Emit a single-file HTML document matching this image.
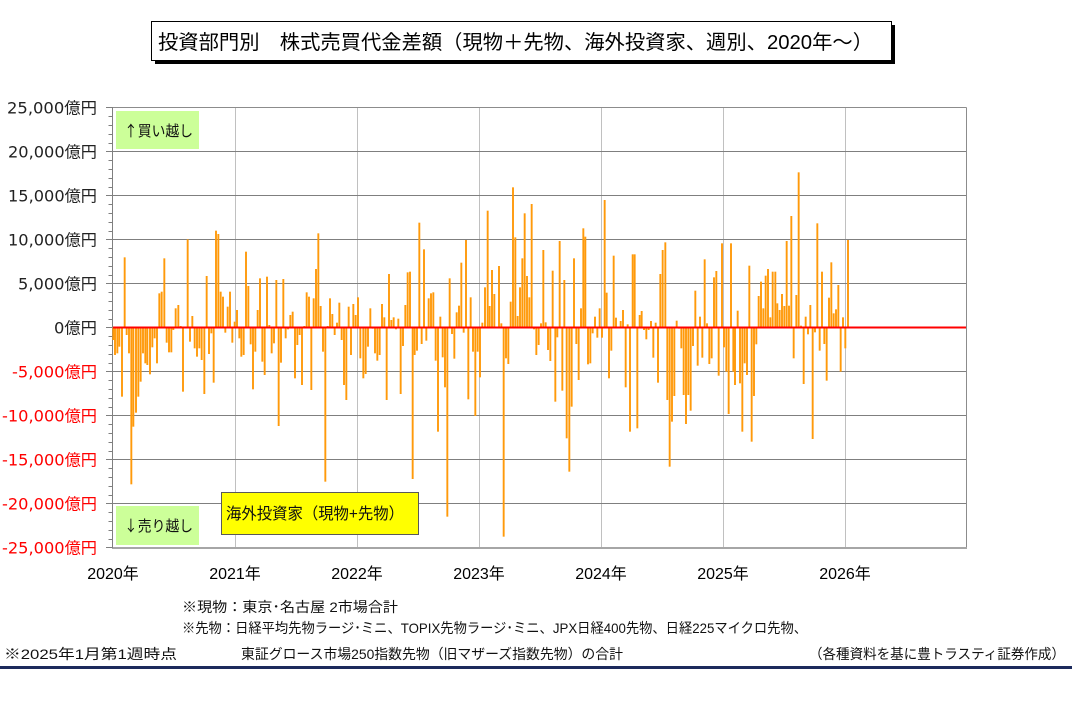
<!DOCTYPE html>
<html><head><meta charset="utf-8">
<style>
html,body{margin:0;padding:0;background:#fff;}
svg{display:block;}
text{font-family:"Liberation Sans","Noto Sans CJK JP",sans-serif;}
.yl text{font-family:"DejaVu Sans","Noto Sans CJK JP",sans-serif;font-size:16px;}
.xl{font-family:"DejaVu Sans","Noto Sans CJK JP",sans-serif;font-size:16px;fill:#000;}
.cjk{font-family:"Noto Sans CJK JP","Liberation Sans",sans-serif;}
</style></head>
<body>
<svg id="c" width="1074" height="707" viewBox="0 0 1074 707" xmlns="http://www.w3.org/2000/svg">
<rect width="1074" height="707" fill="#fff"/>
<!-- title -->
<rect x="155" y="25" width="740" height="39" fill="#000"/>
<rect x="151.5" y="21.5" width="740" height="39" fill="#fff" stroke="#000" stroke-width="1"/>
<text x="158" y="49" font-size="20" textLength="715" lengthAdjust="spacingAndGlyphs" fill="#000">投資部門別　株式売買代金差額（現物＋先物、海外投資家、週別、2020年～）</text>

<g id="grid"></g>
<g id="bars"></g>
<line x1="113" y1="327.5" x2="966" y2="327.5" stroke="#ff0000" stroke-width="2"/>

<!-- green boxes -->
<rect x="116" y="111" width="83" height="38" fill="#ccff99"/>
<text class="cjk" x="124" y="136" font-size="15" textLength="69" lengthAdjust="spacingAndGlyphs" fill="#111">↑買い越し</text>
<rect x="116" y="506" width="83" height="39" fill="#ccff99"/>
<text class="cjk" x="124" y="531" font-size="15" textLength="69" lengthAdjust="spacingAndGlyphs" fill="#111">↓売り越し</text>

<!-- yellow box -->
<rect x="221.5" y="492.5" width="197" height="42" fill="#ffff00" stroke="#595959" stroke-width="1"/>
<text x="226" y="519" font-size="16" textLength="178" lengthAdjust="spacingAndGlyphs" fill="#111">海外投資家（現物+先物）</text>

<!-- y labels -->
<g class="yl" text-anchor="end">
<text x="97" y="113.5" fill="#222" textLength="90" lengthAdjust="spacingAndGlyphs">25,000億円</text>
<text x="97" y="157.5" fill="#222" textLength="89" lengthAdjust="spacingAndGlyphs">20,000億円</text>
<text x="97" y="201.5" fill="#222" textLength="89" lengthAdjust="spacingAndGlyphs">15,000億円</text>
<text x="97" y="245.5" fill="#222" textLength="89" lengthAdjust="spacingAndGlyphs">10,000億円</text>
<text x="97" y="289.5" fill="#222" textLength="79" lengthAdjust="spacingAndGlyphs">5,000億円</text>
<text x="97" y="333.5" fill="#222" textLength="43" lengthAdjust="spacingAndGlyphs">0億円</text>
<text x="97" y="377.5" fill="#ff0000" textLength="85" lengthAdjust="spacingAndGlyphs">-5,000億円</text>
<text x="97" y="421.5" fill="#ff0000" textLength="95" lengthAdjust="spacingAndGlyphs">-10,000億円</text>
<text x="97" y="465.5" fill="#ff0000" textLength="95" lengthAdjust="spacingAndGlyphs">-15,000億円</text>
<text x="97" y="509.5" fill="#ff0000" textLength="95" lengthAdjust="spacingAndGlyphs">-20,000億円</text>
<text x="97" y="553.5" fill="#ff0000" textLength="95" lengthAdjust="spacingAndGlyphs">-25,000億円</text>
</g>

<!-- x labels -->
<g class="xl" text-anchor="middle">
<text x="113" y="579">2020年</text>
<text x="235" y="579">2021年</text>
<text x="357" y="579">2022年</text>
<text x="479" y="579">2023年</text>
<text x="601" y="579">2024年</text>
<text x="723" y="579">2025年</text>
<text x="845" y="579">2026年</text>
</g>

<!-- notes -->
<g font-size="14" fill="#111">
<text x="182" y="612" textLength="216" lengthAdjust="spacingAndGlyphs">※現物：東京･名古屋  2市場合計</text>
<text x="182" y="633" textLength="625" lengthAdjust="spacingAndGlyphs">※先物：日経平均先物ラージ･ミニ、TOPIX先物ラージ･ミニ、JPX日経400先物、日経225マイクロ先物、</text>
<text x="241" y="659" textLength="382" lengthAdjust="spacingAndGlyphs">東証グロース市場250指数先物（旧マザーズ指数先物）の合計</text>
<text x="4" y="659" textLength="173" lengthAdjust="spacingAndGlyphs">※2025年1月第1週時点</text>
<text x="809" y="659" textLength="256" lengthAdjust="spacingAndGlyphs">（各種資料を基に豊トラスティ証券作成）</text>
</g>
<rect x="0" y="666" width="1072" height="3" fill="#1c2a5c"/>
</svg>
<script>
(function(){
var NS="http://www.w3.org/2000/svg";
function el(p,t,a){var e=document.createElementNS(NS,t);for(var k in a)e.setAttribute(k,a[k]);p.appendChild(e);return e;}
var g=document.getElementById("grid");
[235,357,479,601,723,845].forEach(function(x){el(g,"line",{x1:x+0.5,y1:107.5,x2:x+0.5,y2:547.5,stroke:"#c0c0c0","stroke-width":1});});
for(var i=0;i<=10;i++){var y=107.5+44*i;
 if(i>0&&i<10) el(g,"line",{x1:113,y1:y,x2:966.5,y2:y,stroke:"#7f7f7f","stroke-width":1});
 el(g,"line",{x1:106,y1:y,x2:113,y2:y,stroke:"#7f7f7f","stroke-width":1});
}
for(var j=0;j<=50;j++){ if(j%5===0) continue; var yy=Math.round(107.5+8.8*j)+0.5;
 el(g,"line",{x1:108.5,y1:yy,x2:113,y2:yy,stroke:"#7f7f7f","stroke-width":1});}
el(g,"line",{x1:112.5,y1:107.5,x2:966.5,y2:107.5,stroke:"#8c8c8c","stroke-width":1});
el(g,"line",{x1:966.5,y1:107.5,x2:966.5,y2:548,stroke:"#8c8c8c","stroke-width":1});
el(g,"line",{x1:112,y1:548,x2:967,y2:548,stroke:"#a6a6a6","stroke-width":2});
el(g,"line",{x1:112.5,y1:107,x2:112.5,y2:548,stroke:"#7f7f7f","stroke-width":1});

var segs=[
[110,[[10,720],[15,765],[22,760],[28,740],[36,890],[44,472],[50,705],[57,760],[64,1153],[70,980],[78,938],[85,890],[92,845],[99,760],[106,790],[112,795],[120,823],[127,742],[134,715],[141,790],[148,580],[155,575],[163,475],[170,728],[177,757],[184,757],[190,690],[197,625],[205,615],[212,678],[219,875],[226,680],[233,418],[240,725],[247,648],[254,745],[261,770],[268,745],[275,780],[283,882],[290,528],[297,762],[304,700],[311,848],[318,392],[325,402],[332,575],[339,590],[346,698],[353,620],[360,575],[367,728],[374,665],[381,630],[388,715]]],
[232,[[28,770],[35,765],[42,455],[49,558],[56,733],[63,868],[70,755],[77,630],[84,535],[91,785],[98,825],[105,530],[112,675],[119,760],[126,730],[133,540],[140,978],[147,788],[154,537],[161,715],[168,688],[175,645],[182,635],[189,835],[196,735],[203,705],[210,855],[217,678],[224,577],[231,590],[238,870],[245,595],[252,507],[259,400],[266,618],[273,755],[280,1145],[287,678],[294,595],[301,642],[308,705],[315,668],[322,608],[329,720],[336,855],[343,900],[350,620],[357,765],[364,612],[371,645],[378,592],[385,775]]],
[354,[[28,835],[35,822],[42,740],[49,625],[56,686],[63,760],[70,782],[77,765],[84,612],[91,652],[98,900],[105,522],[112,660],[119,652],[126,688],[133,656],[140,882],[147,738],[154,615],[161,517],[168,515],[176,1137],[182,765],[189,752],[196,368],[203,732],[210,448],[217,722],[224,595],[231,580],[238,577],[245,782],[252,995],[259,650],[266,772],[273,862],[280,1250],[287,535],[294,702],[301,776],[308,637],[315,617],[322,488],[329,698],[336,420],[343,898],[350,592],[357,755],[364,948],[371,755],[378,832],[385,668]]],
[476,[[27,562],[35,332],[41,618],[48,510],[55,582],[62,680],[69,498],[76,670],[83,1310],[90,775],[97,792],[104,605],[111,262],[118,412],[125,648],[132,562],[139,475],[146,340],[153,528],[160,592],[167,312],[174,688],[181,765],[188,735],[195,670],[202,450],[209,667],[216,750],[223,783],[230,512],[238,905],[244,712],[251,423],[259,872],[265,540],[272,1015],[280,1115],[287,920],[294,475],[301,732],[308,840],[315,625],[322,385],[328,410],[336,793],[343,790],[350,700],[357,650],[364,713],[371,625],[378,713],[386,300]]],
[598,[[26,578],[33,835],[40,752],[47,467],[54,653],[61,680],[68,663],[75,630],[83,862],[89,673],[96,995],[104,463],[110,463],[118,985],[125,645],[131,633],[138,690],[145,718],[152,690],[159,663],[166,773],[173,668],[180,848],[187,522],[194,450],[202,427],[208,900],[215,1100],[222,965],[229,888],[236,662],[243,686],[250,745],[257,885],[264,972],[271,885],[278,932],[285,738],[292,572],[299,797],[306,650],[313,773],[320,478],[327,670],[334,792],[341,775],[348,532],[355,513],[362,827],[372,430],[378,742],[385,815]]],
[720,[[26,942],[33,430],[40,815],[45,855],[53,632],[60,850],[67,995],[74,790],[81,825],[88,497],[95,1025],[102,888],[109,733],[116,588],[123,545],[130,625],[137,527],[144,507],[151,652],[158,515],[166,515],[172,610],[179,630],[186,582],[193,618],[200,423],[207,617],[214,348],[221,775],[229,585],[236,217],[243,677],[251,852],[257,650],[264,703],[271,615],[278,1017],[285,697],[292,370],[299,752],[306,515],[313,732],[320,842],[327,593],[334,487],[341,640],[348,628],[355,555],[362,815],[369,652],[376,745],[384,420]]]
];
var b=document.getElementById("bars");var Z=327.5;
segs.forEach(function(s){var o=s[0];s[1].forEach(function(p){
 var x=o+p[0]/3, yt=100+p[1]/3; var y=Math.min(yt,Z), h=Math.abs(yt-Z); if(h<0.8)h=0.8;
 el(b,"rect",{x:(x-0.95).toFixed(2),y:y.toFixed(2),width:1.9,height:h.toFixed(2),fill:"#ff9a0a"});
});});
})();
</script>
</body></html>
